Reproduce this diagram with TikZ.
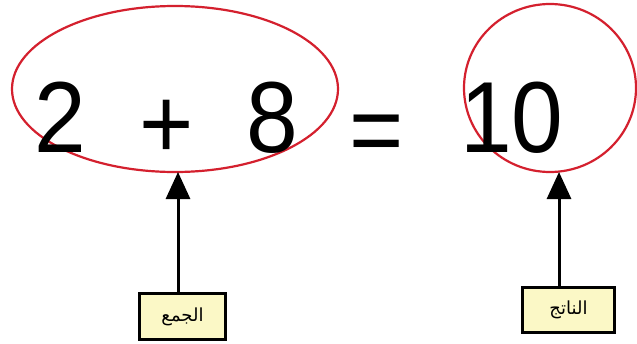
\documentclass[tikz,border=0pt]{standalone}
\usepackage{fontspec}
\setmainfont{Liberation Sans}
\newfontfamily\arabicfont[Script=Arabic]{DejaVu Sans}
\TeXXeTstate=1
\usetikzlibrary{arrows.meta,shapes.geometric}
\definecolor{ringred}{HTML}{D4202E}
\definecolor{boxyellow}{HTML}{FBF8C6}
\tikzset{
  ring/.style={draw=ringred, line width=2.2pt, ellipse, inner sep=0pt},
  bigtext/.style={font=\fontsize{101}{101}\selectfont, inner sep=0pt, anchor=base},
  tag/.style={draw=black, line width=2.5pt, fill=boxyellow, inner sep=0pt,
    font=\arabicfont\fontsize{18}{20}\selectfont},
  pointer/.style={line width=3pt, -{Triangle[width=24pt,length=27pt]}}
}
\newcommand{\nar}[1]{\scalebox{0.92}[1]{#1}}
\begin{document}
\begin{tikzpicture}[x=1pt,y=-1pt]
\useasboundingbox (0,0) rectangle (637,343);
\fill[white] (0,0) rectangle (637,343);
% rings
\node[ring, minimum width=326pt, minimum height=166pt] (sum) at (175,89) {};
\node[ring, minimum width=172pt, minimum height=168pt] (res) at (550,88) {};
% equation text
\node[bigtext] (two) at (60,152) {\nar{2}};
\node[bigtext] (plus) at (167,158) {\nar{+}};
\node[bigtext] (eight) at (272,152) {\nar{8}};
\node[bigtext] (eq) at (377,164) {\nar{=}};
\node[bigtext] (ten) at (512,152) {\nar{10}};
% label boxes
\node[tag, minimum width=86pt, minimum height=46pt] (lblA) at (182.5,316.5) {\beginR الجمع\endR};
\node[tag, minimum width=92pt, minimum height=45pt] (lblB) at (568.5,310) {\beginR الناتج\endR};
% pointer anchor points
\coordinate (tipA) at (178,172);
\coordinate (tipB) at (559,172);
\coordinate (baseA) at (178,293);
\coordinate (baseB) at (559,287);
\draw[pointer] (baseA) -- (tipA);
\draw[pointer] (baseB) -- (tipB);
\end{tikzpicture}
\end{document}
